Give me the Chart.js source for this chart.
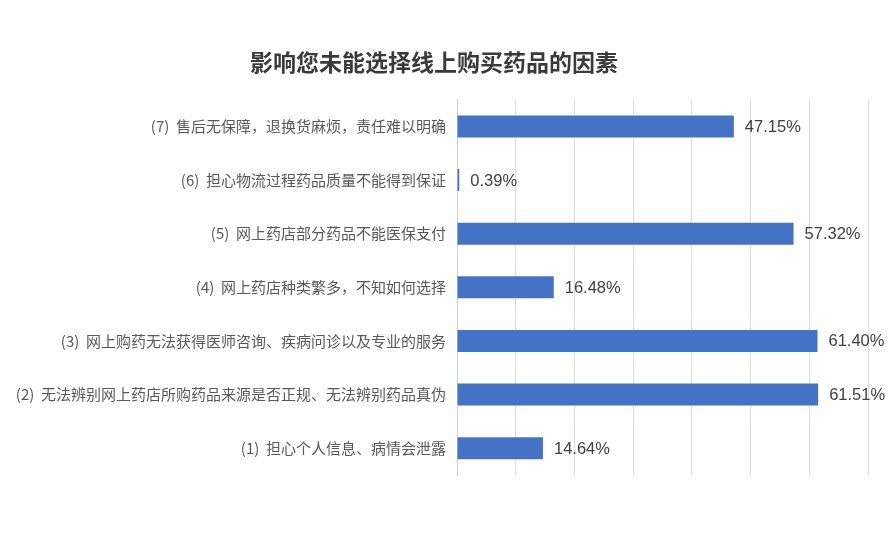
<!DOCTYPE html>
<html>
<head>
<meta charset="utf-8">
<script src="https://cdn.jsdelivr.net/npm/chart.js@4/dist/chart.umd.min.js"></script>
<style>
  html, body { margin: 0; padding: 0; background: #fff; }
  #wrap { width: 893px; height: 542px; }
</style>
</head>
<body>
<div id="wrap"><canvas id="factorChart" width="893" height="542"></canvas></div>
<script>
const titleText = '影响您未能选择线上购买药品的因素';

// top to bottom, as in the picture
const categories = [
    '(7)  售后无保障，退换货麻烦，责任难以明确',
    '(6)  担心物流过程药品质量不能得到保证',
    '(5)  网上药店部分药品不能医保支付',
    '(4)  网上药店种类繁多，不知如何选择',
    '(3)  网上购药无法获得医师咨询、疾病问诊以及专业的服务',
    '(2)  无法辨别网上药店所购药品来源是否正规、无法辨别药品真伪',
    '(1)  担心个人信息、病情会泄露'
];
const percentValues = [47.15, 0.39, 57.32, 16.48, 61.40, 61.51, 14.64];
const axisMax = 70;
const axisStep = 10;

const cjkFont = '"Noto Sans CJK SC", "Microsoft YaHei", sans-serif';

// value labels at the bar ends
const barValueLabels = {
    id: 'barValueLabels',
    afterDatasetsDraw(chart) {
        const ctx = chart.ctx;
        const meta = chart.getDatasetMeta(0);
        ctx.save();
        ctx.font = '16.5px "Liberation Sans", Arial, sans-serif';
        ctx.fillStyle = '#404040';
        ctx.textAlign = 'left';
        ctx.textBaseline = 'middle';
        meta.data.forEach((bar, i) => {
            ctx.fillText(percentValues[i].toFixed(2) + '%', bar.x + 11, bar.y + 1);
        });
        ctx.restore();
    }
};

new Chart(document.getElementById('factorChart'), {
    type: 'bar',
    data: {
        labels: categories,
        datasets: [{
            data: percentValues,
            backgroundColor: '#4472C4',
            borderWidth: 0,
            barPercentage: 0.41,
            categoryPercentage: 1
        }]
    },
    options: {
        indexAxis: 'y',
        responsive: false,
        animation: false,
        layout: {
            padding: { left: 0, right: 25, top: 0, bottom: 67 }
        },
        plugins: {
            legend: { display: false },
            tooltip: { enabled: false },
            title: {
                display: true,
                text: titleText,
                color: '#3a3a3a',
                font: { family: cjkFont, size: 23, weight: 'bold', lineHeight: 1.2 },
                padding: { top: 48, bottom: 24 }
            }
        },
        scales: {
            x: {
                min: 0,
                max: axisMax,
                ticks: { display: false, stepSize: axisStep },
                grid: { color: '#dcdcdc', drawTicks: false, lineWidth: 1 },
                border: { display: false }
            },
            y: {
                grid: { display: false, drawTicks: false },
                border: { display: true, color: '#d0d0d0' },
                ticks: {
                    color: '#595959',
                    padding: 11,
                    font: { family: cjkFont, size: 15 }
                },
                afterFit(scale) { scale.width = 457; }
            }
        }
    },
    plugins: [barValueLabels]
});
</script>
</body>
</html>
